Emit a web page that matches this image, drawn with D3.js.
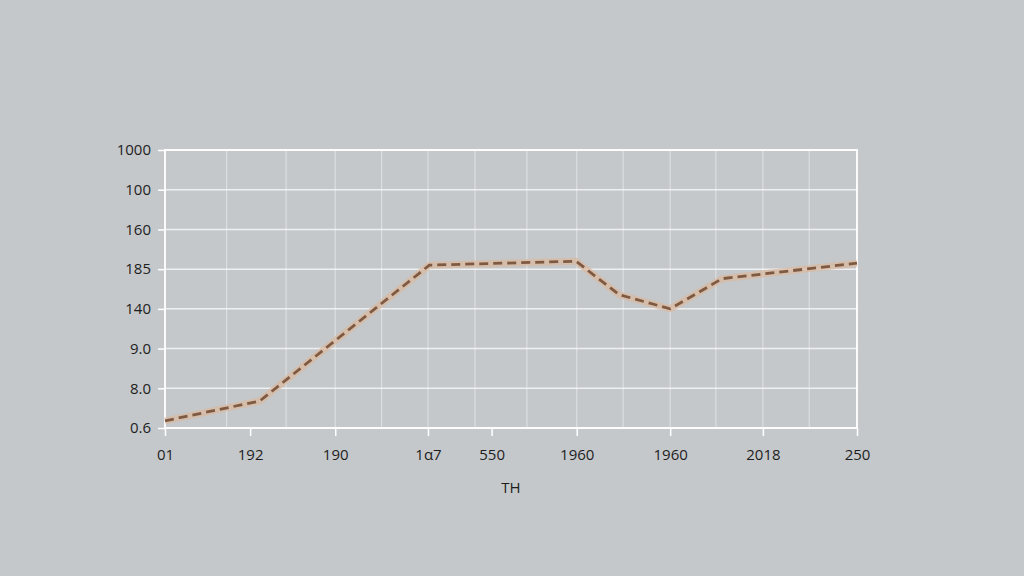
<!DOCTYPE html>
<html>
<head>
<meta charset="utf-8">
<script src="https://cdn.jsdelivr.net/npm/d3@7"></script>
<style>
  html, body { margin: 0; padding: 0; background: #c5c8cb; }
  svg { display: block; }
</style>
</head>
<body>
<svg id="drawing_region"></svg>
<script>
// y tick labels, bottom to top (shown as printed in the picture)
const yLabels = ["0.6", "8.0", "9.0", "140", "185", "160", "100", "1000"];

// x tick positions (0-100 along the axis) and their labels
const xTickPos = [0, 12.3, 24.6, 38.0, 47.2, 59.5, 73.0, 86.4, 100];
const xLabels = ["01", "192", "190", "1\u03b17", "550", "1960", "1960", "2018", "250"];

// vertical grid positions
const xGrid = [0, 8.9, 17.5, 24.6, 31.3, 38.0, 44.8, 52.3, 59.5, 66.2, 73.0, 79.6, 86.4, 93.1, 100];

// line series
const lineX = [0, 13.7, 38.2, 59.4, 65.6, 73.0, 80.5, 100];
const lineY = [0.18, 0.68, 4.10, 4.20, 3.36, 3.0, 3.76, 4.15];

const xTitle = "TH";

const config = {
    width: 1024,
    height: 576,
    margin: {top: 150, right: 167, bottom: 148, left: 165}
};

const svg = d3.select('#drawing_region')
    .attr('width', config.width)
    .attr('height', config.height);

const innerW = config.width - config.margin.left - config.margin.right;
const innerH = config.height - config.margin.top - config.margin.bottom;

const chart = svg.append('g')
    .attr('transform', `translate(${config.margin.left}, ${config.margin.top})`);

const xScale = d3.scaleLinear().domain([0, 100]).range([0, innerW]);
const yScale = d3.scaleLinear().domain([0, yLabels.length - 1]).range([innerH, 0]);

// vertical grid
chart.selectAll('.vgrid')
    .data(xGrid)
    .join('line')
    .attr('x1', d => xScale(d)).attr('x2', d => xScale(d))
    .attr('y1', 0).attr('y2', innerH)
    .attr('stroke', '#ffffff')
    .attr('stroke-opacity', 0.4)
    .attr('stroke-width', 1.2);

// horizontal grid
chart.selectAll('.hgrid')
    .data(d3.range(yLabels.length))
    .join('line')
    .attr('x1', 0).attr('x2', innerW)
    .attr('y1', d => yScale(d)).attr('y2', d => yScale(d))
    .attr('stroke', '#ffffff')
    .attr('stroke-opacity', 0.7)
    .attr('stroke-width', 1.5);

// frame
chart.append('rect')
    .attr('x', 0).attr('y', 0)
    .attr('width', innerW).attr('height', innerH)
    .attr('fill', 'none')
    .attr('stroke', '#ffffff')
    .attr('stroke-opacity', 0.9)
    .attr('stroke-width', 2);

// y axis
const yAxis = d3.axisLeft(yScale)
    .tickValues(d3.range(yLabels.length))
    .tickFormat(i => yLabels[i])
    .tickSize(7)
    .tickPadding(7);

const yg = chart.append('g').call(yAxis);
yg.select('.domain').remove();
yg.selectAll('line').attr('stroke', '#ffffff').attr('stroke-width', 1.5);
yg.selectAll('text')
    .attr('fill', '#1e1e1e')
    .style('font-family', '"Open Sans", "DejaVu Sans", sans-serif')
    .style('font-size', '15px');

// x axis
const xAxis = d3.axisBottom(xScale)
    .tickValues(xTickPos)
    .tickFormat((d, i) => xLabels[i])
    .tickSize(8)
    .tickPadding(13);

const xg = chart.append('g')
    .attr('transform', `translate(0, ${innerH})`)
    .call(xAxis);
xg.select('.domain').remove();
xg.selectAll('line').attr('stroke', '#ffffff').attr('stroke-width', 1.5);
xg.selectAll('text')
    .attr('fill', '#1e1e1e')
    .style('font-family', '"Open Sans", "DejaVu Sans", sans-serif')
    .style('font-size', '15px');

// x title
chart.append('text')
    .attr('x', xScale(50))
    .attr('y', innerH + 65)
    .attr('text-anchor', 'middle')
    .attr('fill', '#1e1e1e')
    .style('font-family', '"Open Sans", "DejaVu Sans", sans-serif')
    .style('font-size', '15px')
    .text(xTitle);

// line
const points = lineX.map((x, i) => [x, lineY[i]]);
const line = d3.line()
    .x(d => xScale(d[0]))
    .y(d => yScale(d[1]));

chart.append('path')
    .attr('d', line(points))
    .attr('fill', 'none')
    .attr('stroke', '#dcb89c')
    .attr('stroke-opacity', 0.7)
    .attr('stroke-width', 7)
    .attr('stroke-linejoin', 'round');

chart.append('path')
    .attr('d', line(points))
    .attr('fill', 'none')
    .attr('stroke', '#7f5a42')
    .attr('stroke-width', 2.8)
    .attr('stroke-dasharray', '9,5');
</script>
</body>
</html>
